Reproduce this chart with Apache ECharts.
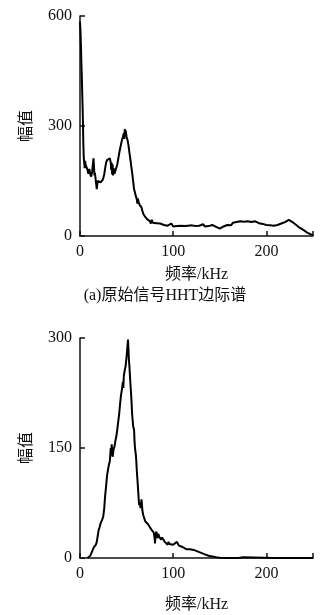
<!DOCTYPE html>
<html>
<head>
<meta charset="utf-8">
<script src="https://cdn.jsdelivr.net/npm/echarts@6/dist/echarts.min.js"></script>
<style>html,body{margin:0;padding:0;background:#fff;}#c{width:330px;height:615px;}</style>
</head>
<body>
<div id="c"></div>
<script>
// Top chart (a): original signal HHT marginal spectrum
var freqA = [0,0.5,1,1.5,2,2.5,3,3.3,3.6,4,4.5,5,5.5,6,7,8,9,10,11,12,13,14,14.5,15,15.5,16,17,18,18.5,19,20,21,22,23,24,25,26,27,28,29,30,31,32,33,33.5,34,34.5,35,35.5,36,37,38,39,40,41,42,43,44,45,46,47,47.5,48,48.5,49,50,51,52,53,54,55,56,57,58,59,60,61,61.5,62,63,64,65,66,67,68,69,70,71,72,73,74,75,76,77,78,79,80,82,84,86,88,90,92,94,96,98,100,102,104,106,108,110,112,114,116,118,120,122,124,126,128,130,132,134,136,138,140,142,144,146,148,150,152,154,156,158,160,162,164,166,168,170,172,174,176,178,180,182,184,186,188,190,192,194,196,198,200,202,204,206,208,210,212,214,216,218,220,222,224,225,226,228,230,232,234,236,238,240,242,244,246,248,250];
var ampA = [585,560,520,470,430,380,330,290,250,215,200,185,205,195,188,180,170,183,168,162,175,200,212,190,165,172,150,128,140,150,148,155,146,150,152,158,168,185,200,207,210,208,212,200,180,200,168,195,165,185,170,178,182,195,210,225,238,250,262,270,280,265,292,275,288,270,262,248,228,210,190,172,150,128,118,108,100,88,102,92,85,80,78,68,60,58,52,48,46,45,42,40,34,44,36,38,32,35,31,34,38,30,33,28,31,34,26,30,27,30,28,29,27,30,28,31,29,30,27,31,28,29,32,26,30,27,25,30,33,25,22,20,24,26,28,30,33,29,36,34,38,35,40,36,39,34,40,36,38,34,40,37,35,38,33,31,30,32,29,30,28,29,30,32,34,33,38,40,44,46,42,38,34,30,26,22,19,16,12,9,6,4,2];
// Bottom chart
var freqB = [8,9,10,11,12,13,14,15,16,17,18,19,20,21,22,23,24,25,26,27,28,29,30,31,32,33,33.5,34,35,36,37,38,39,40,41,42,43,44,45,46,46.5,47,48,49,50,51,51.5,52,52.5,53,54,55,56,56.5,57,58,58.5,59,60,60.5,61,62,63,63.5,64,65,66,66.5,67,68,69,70,71,72,73,74,75,76,77,78,79,80,80.5,81,82,83,84,85,86,87,88,89,90,91,92,93,94,95,96,98,100,102,104,106,108,110,112,114,116,118,120,122,124,126,128,130,132,134,136,138,140,142,144,146,148,150,155,170,175,176,208,210,212,250];
var ampB = [0,0,1,3,6,9,12,15,17,18,22,30,38,42,47,50,53,57,68,85,98,112,120,127,132,150,140,155,138,148,152,160,166,175,186,196,210,222,230,240,232,248,256,262,275,290,298,285,270,262,240,220,195,188,180,175,160,150,140,130,118,100,80,72,75,68,80,72,64,58,54,50,52,48,46,44,42,40,38,36,35,28,20,32,36,27,33,29,30,25,28,26,27,22,24,21,18,22,19,20,18,20,22,17,16,15,13,12,11,12,14,11,10,9,8,7,6,5,4,3,3,2,2,1,1,0.5,0,0,1,0,0,1.5,0,0];
var xTicks = [0,100,200];
var yTicksA = [0,300,600];
var yTicksB = [0,150,300];

function zip(a,b){var r=[];for(var i=0;i<a.length;i++)r.push([a[i],b[i]]);return r;}

var numFont = {fontFamily:'"Liberation Serif", "Noto Sans CJK SC", serif', fontSize:16, color:'#111'};
var cjkFont = {fontFamily:'"Liberation Serif", "Noto Sans CJK SC", serif', fontSize:16, color:'#111'};
var axLine = {lineStyle:{color:'#111', width:1.5}};
var tick = {inside:true, length:5, lineStyle:{color:'#111', width:1.5}};

function xAx(idx, gap){
  return {type:'value', gridIndex:idx, min:0, max:250, interval:100,
    axisLine:axLine, axisTick:tick, splitLine:{show:false},
    axisLabel:Object.assign({margin:8, formatter:function(v){return xTicks.indexOf(v)>=0? String(v):'';}}, numFont),
    name:'频率/kHz', nameLocation:'middle', nameGap:gap, nameTextStyle:cjkFont};
}
function yAx(idx, max, itv){
  return {type:'value', gridIndex:idx, min:0, max:max, interval:itv,
    axisLine:Object.assign({show:true}, axLine), axisTick:Object.assign({show:true}, tick), splitLine:{show:false},
    axisLabel:Object.assign({margin:8}, numFont),
    name:'幅值', nameLocation:'middle', nameGap:45, nameRotate:90, nameTextStyle:cjkFont};
}

var chart = echarts.init(document.getElementById('c'), null, {renderer:'canvas'});
chart.setOption({
  backgroundColor:'#fff',
  animation:false,
  grid:[{left:80, right:17, top:16, height:220},{left:80, right:17, top:338, height:220}],
  xAxis:[xAx(0,31), xAx(1,39)],
  yAxis:[yAx(0,600,300), yAx(1,300,150)],
  graphic:[{type:'text', left:'center', top:288, style:{text:'(a)原始信号HHT边际谱', x:0, fontFamily:'"Liberation Serif", "Noto Sans CJK SC", serif', fontSize:16, fill:'#111'}}],
  series:[
    {type:'line', xAxisIndex:0, yAxisIndex:0, data:zip(freqA, ampA), showSymbol:false, lineStyle:{color:'#000', width:2}},
    {type:'line', xAxisIndex:1, yAxisIndex:1, data:zip(freqB, ampB), showSymbol:false, lineStyle:{color:'#000', width:2}}
  ]
});
</script>
</body>
</html>
